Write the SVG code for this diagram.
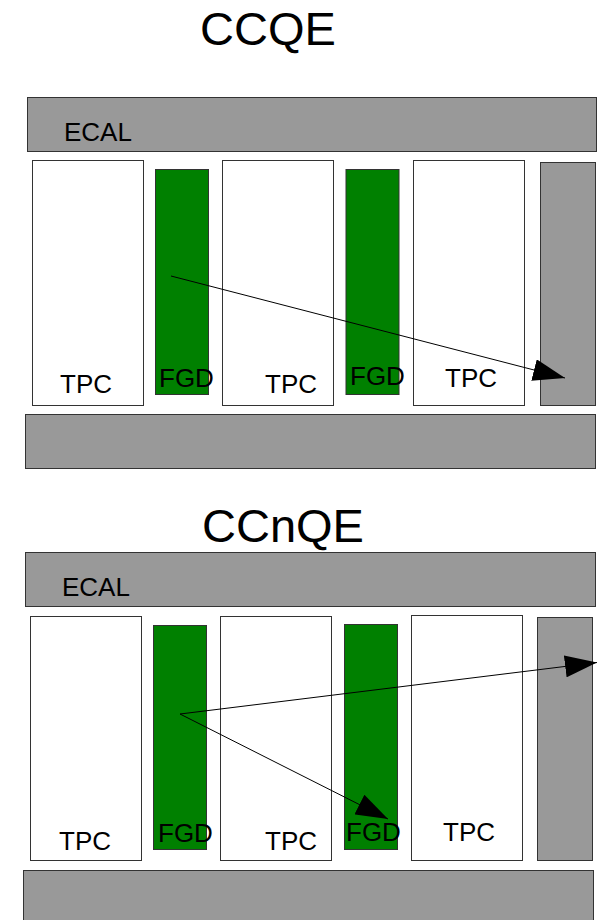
<svg xmlns="http://www.w3.org/2000/svg" width="601" height="920" viewBox="0 0 601 920">
<style>
text{font-family:"Liberation Sans",Arial,sans-serif;fill:#000}
.title{font-size:47px;text-anchor:middle}
.lbl{font-size:26px}
.ecal{fill:#999999;stroke:#333333;stroke-width:1}
.tpc{fill:#ffffff;stroke:#333333;stroke-width:1}
.fgd{fill:#008000;stroke:#333333;stroke-width:1}
.trk{fill:none;stroke:#000;stroke-width:1;marker-end:url(#ah)}
</style>
<defs>
<marker id="ah" markerUnits="userSpaceOnUse" markerWidth="33" markerHeight="22" refX="32" refY="11" orient="auto" viewBox="0 0 33 22">
<path d="M0,0 L32,11 L0,22 z" fill="#000"/>
</marker>
</defs>
<rect width="601" height="920" fill="#fff"/>

<text class="title" x="268" y="45">CCQE</text>
<g id="ecal-top-1"><rect class="ecal" x="27.5" y="97.5" width="569" height="54"/><text class="lbl" x="64" y="141">ECAL</text></g>
<g id="tpc1-1"><rect class="tpc" x="32.5" y="160.5" width="111" height="245"/><text class="lbl" x="60" y="393">TPC</text></g>
<g id="fgd1-1"><rect class="fgd" x="155.5" y="169.5" width="53" height="225"/><text class="lbl" x="159" y="387">FGD</text></g>
<g id="tpc2-1"><rect class="tpc" x="222.5" y="160.5" width="111" height="245"/><text class="lbl" x="265" y="393">TPC</text></g>
<g id="fgd2-1"><rect class="fgd" x="346" y="169.5" width="53" height="225"/><text class="lbl" x="350" y="385">FGD</text></g>
<g id="tpc3-1"><rect class="tpc" x="413.5" y="160.5" width="111" height="245"/><text class="lbl" x="445" y="387">TPC</text></g>
<g id="ecal-side-1"><rect class="ecal" x="540.5" y="162.5" width="55" height="243"/></g>
<g id="ecal-bottom-1"><rect class="ecal" x="25.5" y="414.5" width="570" height="54"/></g>

<text class="title" x="283" y="542">CCnQE</text>
<g id="ecal-top-2"><rect class="ecal" x="25.5" y="552.5" width="570" height="54"/><text class="lbl" x="62" y="596">ECAL</text></g>
<g id="tpc1-2"><rect class="tpc" x="30.5" y="616.5" width="111" height="244"/><text class="lbl" x="59" y="850">TPC</text></g>
<g id="fgd1-2"><rect class="fgd" x="153.5" y="625.5" width="53" height="224"/><text class="lbl" x="158" y="842">FGD</text></g>
<g id="tpc2-2"><rect class="tpc" x="220.5" y="616.5" width="111" height="244"/><text class="lbl" x="265" y="850">TPC</text></g>
<g id="fgd2-2"><rect class="fgd" x="344.5" y="624.5" width="53" height="225"/><text class="lbl" x="346" y="841">FGD</text></g>
<g id="tpc3-2"><rect class="tpc" x="411.5" y="615.5" width="111" height="245"/><text class="lbl" x="443" y="841">TPC</text></g>
<g id="ecal-side-2"><rect class="ecal" x="537.5" y="617.5" width="55" height="243"/></g>
<g id="ecal-bottom-2"><rect class="ecal" x="23.5" y="870.5" width="570" height="60"/></g>

<g id="connectors">
<line class="trk" x1="171" y1="276" x2="565" y2="378"/>
<line class="trk" x1="180" y1="714" x2="597" y2="662.5"/>
<line class="trk" x1="180" y1="714" x2="388" y2="819"/>
</g>
</svg>
